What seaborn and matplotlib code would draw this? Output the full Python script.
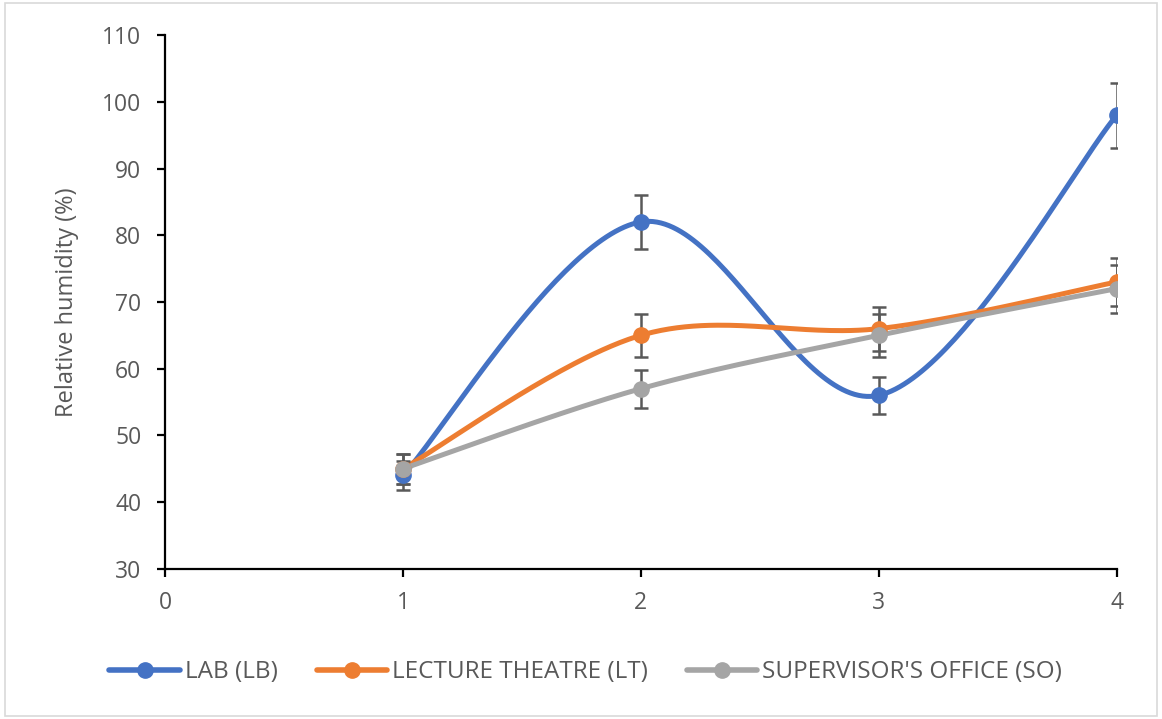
import numpy as np
import pandas as pd
import seaborn as sns
import matplotlib.pyplot as plt
from matplotlib.lines import Line2D
from matplotlib.patches import Rectangle

# data
x_vals = [1, 2, 3, 4]
lab = [44, 82, 56, 98]
lecture = [45, 65, 66, 73]
office = [45, 57, 65, 72]
series_names = ['LAB (LB)', 'LECTURE THEATRE (LT)', "SUPERVISOR'S OFFICE (SO)"]
err_pct = 0.05  # error bars: 5 % of value

colors = ['#4472C4', '#ED7D31', '#A5A5A5']


def smooth(xs, ys, n=60):
    # Catmull-Rom style smoothing, like Excel's "smoothed line"
    xs = np.asarray(xs, float)
    ys = np.asarray(ys, float)
    px = np.concatenate([[xs[0]], xs, [xs[-1]]])
    py = np.concatenate([[ys[0]], ys, [ys[-1]]])
    out_x, out_y = [], []
    t = np.linspace(0, 1, n)
    for i in range(1, len(px) - 2):
        p0 = np.array([px[i], py[i]])
        p3 = np.array([px[i + 1], py[i + 1]])
        c1 = p0 + (np.array([px[i + 1], py[i + 1]]) - np.array([px[i - 1], py[i - 1]])) / 6
        c2 = p3 - (np.array([px[i + 2], py[i + 2]]) - np.array([px[i], py[i]])) / 6
        b = ((1 - t) ** 3)[:, None] * p0 + (3 * (1 - t) ** 2 * t)[:, None] * c1 \
            + (3 * (1 - t) * t ** 2)[:, None] * c2 + (t ** 3)[:, None] * p3
        out_x.extend(b[:, 0])
        out_y.extend(b[:, 1])
    return out_x, out_y


frames = []
for name, ys in zip(series_names, [lab, lecture, office]):
    sx, sy = smooth(x_vals, ys)
    frames.append(pd.DataFrame({'x': sx, 'y': sy, 'series': name}))
curves = pd.concat(frames, ignore_index=True)

sns.set_style('white')
plt.rcParams['font.family'] = ['Open Sans', 'DejaVu Sans']

fig = plt.figure(figsize=(11.62, 7.19), dpi=100)
ax = fig.add_axes([0.142, 0.209, 0.819, 0.742])

sns.lineplot(data=curves, x='x', y='y', hue='series', palette=colors,
             sort=False, estimator=None, linewidth=3.6, legend=False, ax=ax)

for name, ys, c in zip(series_names, [lab, lecture, office], colors):
    ys = np.asarray(ys, float)
    ax.errorbar(x_vals, ys, yerr=ys * err_pct, fmt='none', ecolor='#595959',
                elinewidth=1.8, capsize=4.7, capthick=1.8, zorder=3)
    ax.plot(x_vals, ys, 'o', color=c, markersize=11, zorder=4)

ax.set_xlim(0, 4)
ax.set_ylim(30, 110)
ax.set_xticks([0, 1, 2, 3, 4])
ax.set_yticks(range(30, 111, 10))
ax.set_xlabel('')
ax.set_ylabel('Relative humidity (%)', fontsize=17, color='#595959')
ax.yaxis.set_label_coords(-0.09, 0.5)

for side in ['top', 'right']:
    ax.spines[side].set_visible(False)
for side in ['left', 'bottom']:
    ax.spines[side].set_color('#000000')
    ax.spines[side].set_linewidth(1.6)
ax.tick_params(axis='both', direction='out', length=6, width=1.6, color='#000000',
               labelcolor='#595959', labelsize=16.5, left=True, bottom=True)
ax.tick_params(axis='y', pad=11)
ax.tick_params(axis='x', pad=10)

handles = [Line2D([0], [0], color=c, linewidth=4, marker='o', markersize=11)
           for c in colors]
fig.legend(handles, series_names, loc='center', bbox_to_anchor=(0.504, 0.065),
           ncol=3, frameon=False, fontsize=17.5, labelcolor='#595959',
           handlelength=2.9, handletextpad=0.2, columnspacing=1.6)

fig.patches.append(Rectangle((0.004, 0.004), 0.992, 0.992, transform=fig.transFigure,
                             fill=False, edgecolor='#D9D9D9', linewidth=1.2))

fig.savefig('out.png', dpi=100)
